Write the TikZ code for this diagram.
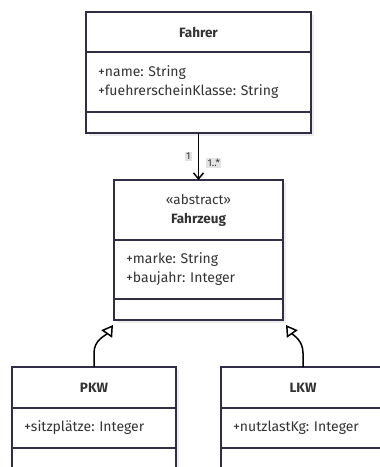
\documentclass[tikz,border=0pt]{standalone}
\usepackage{fontspec}
\setmainfont{Fira Sans}
\usepackage{tikz}
\usetikzlibrary{arrows.meta,calc,positioning,shadows}

\definecolor{umlline}{HTML}{2F2E45}
\definecolor{umltext}{HTML}{333333}
\definecolor{multbg}{HTML}{E3E3E3}

\frenchspacing

\begin{document}
\begin{tikzpicture}[
  x=1pt, y=1pt,
  >=Latex,
  part/.style={
    draw=umlline,
    fill=white,
    line width=1.3pt,
    inner sep=0pt,
    outer sep=0pt,
    text=umltext,
    drop shadow={shadow xshift=3pt, shadow yshift=-3pt, fill=black!7, opacity=1}
  },
  head/.style={
    part,
    align=center,
    font=\fontsize{13.5}{19}\selectfont
  },
  attrs/.style={
    part,
    align=left,
    inner xsep=12pt,
    font=\fontsize{14}{19}\selectfont
  },
  ops/.style={
    part,
    minimum height=21pt
  },
  assoc/.style={
    -{Straight Barb[length=6pt,width=10pt]},
    line width=1.5pt,
    black
  },
  inherit/.style={
    -{Triangle[open,length=11pt,width=13pt,fill=white]},
    line width=1.5pt,
    black
  },
  mult/.style={
    fill=multbg,
    inner sep=1.3pt,
    font=\fontsize{10}{10}\selectfont,
    text=umltext
  }
]

\useasboundingbox (0,0) rectangle (380,-467);

% Fahrer
\node[head, minimum width=225pt, minimum height=40pt] (fahrer) at (198.5,-32)
  {\textbf{Fahrer}};
\node[attrs, text width=201pt, minimum height=60pt, below=0pt of fahrer] (fahrer-attr)
  {+name: String\\+fuehrerscheinKlasse: String};
\node[ops, minimum width=225pt, below=0pt of fahrer-attr] (fahrer-ops) {};

% Fahrzeug (abstract)
\node[head, minimum width=169pt, minimum height=60pt] (fahrzeug) at (198.5,-210)
  {«abstract»\\\textbf{Fahrzeug}};
\node[attrs, text width=145pt, minimum height=59pt, below=0pt of fahrzeug] (fahrzeug-attr)
  {+marke: String\\+baujahr: Integer};
\node[ops, minimum width=169pt, below=0pt of fahrzeug-attr] (fahrzeug-ops) {};

% PKW
\node[head, minimum width=164pt, minimum height=41pt] (pkw) at (94,-387.5)
  {\textbf{PKW}};
\node[attrs, text width=140pt, minimum height=40pt, below=0pt of pkw] (pkw-attr)
  {+sitzplätze: Integer};
\node[ops, minimum width=164pt, below=0pt of pkw-attr] (pkw-ops) {};

% LKW
\node[head, minimum width=164pt, minimum height=41pt] (lkw) at (303,-387.5)
  {\textbf{LKW}};
\node[attrs, text width=140pt, minimum height=40pt, below=0pt of lkw] (lkw-attr)
  {+nutzlastKg: Integer};
\node[ops, minimum width=164pt, below=0pt of lkw-attr] (lkw-ops) {};

% Fahrer -- Fahrzeug
\draw[assoc]
  (fahrer-ops.south) --
  node[mult, pos=0.5, left=6pt] {1}
  node[mult, pos=0.64, right=7pt] {1..*}
  (fahrzeug.north);

% Vererbung
\coordinate (pkw-tip) at ($(fahrzeug-ops.south west)+(-1,-5)$);
\coordinate (lkw-tip) at ($(fahrzeug-ops.south east)+(3,-5)$);

\draw[inherit]
  (pkw.north) -- ++(0,14)
  to[out=90,in=-125] (pkw-tip);
\draw[inherit]
  (lkw.north) -- ++(0,14)
  to[out=90,in=-55] (lkw-tip);

\end{tikzpicture}
\end{document}
